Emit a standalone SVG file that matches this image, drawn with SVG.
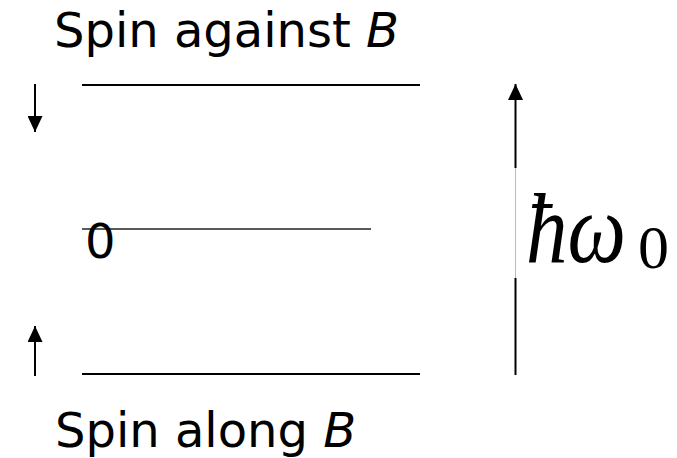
<svg xmlns="http://www.w3.org/2000/svg" width="677" height="458" viewBox="0 0 677 458">
<style>
.t{font-family:"DejaVu Sans",sans-serif;font-size:48px;fill:#000}
.lvl{stroke:#000;stroke-width:2;fill:none}
.ar{stroke:#000;stroke-width:2;fill:none}
.m{font-family:"Liberation Serif",serif;font-style:italic;font-size:100px;fill:#000}
</style>
<defs>
<marker id="ah" viewBox="0 0 16 15" refX="16" refY="7.5" markerWidth="16" markerHeight="15" markerUnits="userSpaceOnUse" orient="auto">
<path d="M0,0 L16,7.5 L0,15 z" fill="#000"/>
</marker>
</defs>
<rect width="677" height="458" fill="#fff"/>
<g id="label-top"><text class="t" x="54" y="47">Spin against <tspan font-style="italic">B</tspan></text></g>
<g id="label-bottom"><text class="t" x="55" y="447">Spin along <tspan font-style="italic">B</tspan></text></g>
<g id="level-top"><line class="lvl" x1="82" y1="85" x2="420" y2="85"/></g>
<g id="level-mid"><line x1="82" y1="229" x2="371" y2="229" stroke="#222" stroke-width="1.5"/><text class="t" x="85" y="258">0</text></g>
<g id="level-bottom"><line class="lvl" x1="82" y1="374" x2="420" y2="374"/></g>
<g id="energy-label">
<text class="m" y="262"><tspan x="526" textLength="100" lengthAdjust="spacingAndGlyphs">ħω</tspan><tspan x="638" y="268" font-style="normal" font-size="62">0</tspan></text>
</g>
<g id="connectors">
<line class="ar" x1="35" y1="84" x2="35" y2="132" marker-end="url(#ah)"/>
<line class="ar" x1="35" y1="376" x2="35" y2="326" marker-end="url(#ah)"/>
<line x1="515.5" y1="375" x2="515.5" y2="278" stroke="#000" stroke-width="2"/>
<line x1="515.5" y1="278" x2="515.5" y2="168" stroke="#bbb" stroke-width="1"/>
<line x1="515.5" y1="168" x2="515.5" y2="84" stroke="#000" stroke-width="2" marker-end="url(#ah)"/>
</g>
</svg>
